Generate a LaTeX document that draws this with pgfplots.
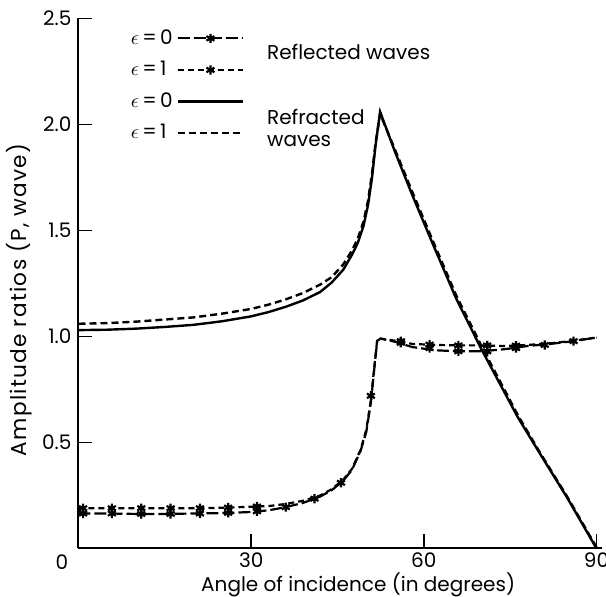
\documentclass[border=0pt]{standalone}
\usepackage{fontspec}
\setmainfont{Poppins}
\usepackage{pgfplots}
\pgfplotsset{compat=1.18}
\pgfplotsset{
 refl0/.style={black, line width=1.1pt, dash pattern=on 6pt off 2pt},
 refl1/.style={black, line width=1.1pt, dash pattern=on 3pt off 2pt},
 starm/.style={black, only marks, mark=asterisk, mark size=2.3pt, mark options={solid, line width=1.1pt}},
}
\begin{document}
\begin{tikzpicture}
\begin{axis}[
  at={(0,0)}, anchor=south west,
  scale only axis, width=261.9pt, height=265pt,
  xmin=0, xmax=91, ymin=0, ymax=2.5,
  clip=false,
  axis x line=bottom, axis y line=left,
  axis line style={-, line width=1pt},
  tick align=inside, major tick length=7pt,
  tick style={line width=0.9pt, black},
  xtick={30,60,90}, ytick={0.5,1,1.5,2,2.5},
  xticklabels={30,60,90},
  yticklabels={0.5,1.0,1.5,2.0,2.5},
  tick label style={font=\fontsize{10}{12}\selectfont},
  xticklabel style={yshift=1.2pt},
  legend style={at={(axis description cs:0.08,0.995)}, anchor=north west, draw=none, fill=none,
    font=\fontsize{10}{12}\selectfont, row sep=3pt},
  legend plot pos=right,
  legend cell align=left,
  legend image code/.code={\draw[mark repeat=2,mark phase=2,#1] plot coordinates {(0cm,0cm) (0.575cm,0cm) (1.15cm,0cm)};},
]
\addlegendimage{refl0, mark=asterisk, mark size=2.3pt, mark options={solid,line width=1.1pt}}
\addlegendentry{$\epsilon$\,=\,0}
\addlegendimage{refl1, mark=asterisk, mark size=2.3pt, mark options={solid,line width=1.1pt}}
\addlegendentry{$\epsilon$\,=\,1}
\addlegendimage{black, line width=1.1pt, no marks}
\addlegendentry{$\epsilon$\,=\,0}
\addlegendimage{black, line width=1.1pt, no marks, dash pattern=on 3.5pt off 2pt}
\addlegendentry{$\epsilon$\,=\,1}

% Refracted, epsilon = 0
\addplot[black, line width=1.2pt, no marks, forget plot] coordinates {
(0,1.03)(5,1.032)(10,1.037)(15,1.045)(20,1.055)(25,1.072)(30,1.095)(33,1.115)(36,1.14)
(39,1.17)(42,1.21)(44,1.255)(46,1.315)(47.5,1.385)(48.5,1.44)(49.5,1.52)(50.3,1.62)
(51,1.75)(51.6,1.9)(52.4,2.06)(55,1.87)(58.1,1.66)(61.5,1.44)(65.6,1.18)(70,0.94)
(76.3,0.62)(80,0.455)(85,0.235)(90,0.0)};
% Refracted, epsilon = 1
\addplot[black, line width=1.2pt, no marks, dash pattern=on 3.5pt off 2pt, forget plot] coordinates {
(0,1.06)(5,1.063)(10,1.07)(15,1.08)(20,1.09)(25,1.108)(30,1.13)(33,1.15)(36,1.175)
(39,1.205)(42,1.245)(44,1.28)(46,1.34)(47.5,1.405)(48.5,1.46)(49.5,1.54)(50.3,1.64)
(51,1.77)(51.6,1.91)(52.4,2.05)(55,1.88)(58.1,1.675)(61.5,1.455)(65.6,1.195)(70,0.955)
(76.3,0.63)(80,0.46)(85,0.24)(90,0.005)};
% Reflected, epsilon = 0
\addplot[refl0, no marks, forget plot] coordinates {
(0,0.165)(5,0.165)(10,0.163)(15,0.163)(20,0.165)(25,0.167)(30,0.172)(33,0.18)(36,0.195)
(39,0.215)(42,0.245)(44,0.275)(46,0.32)(47.5,0.37)(49,0.46)(50,0.55)(50.8,0.69)(51.4,0.85)
(51.9,0.98)(52.5,0.99)(55,0.975)(58,0.95)(62,0.935)(66,0.93)(70,0.93)(74,0.94)(78,0.955)
(82,0.965)(86,0.978)(90,0.995)};
% Reflected, epsilon = 1
\addplot[refl1, no marks, forget plot] coordinates {
(0,0.19)(5,0.19)(10,0.19)(15,0.19)(20,0.19)(25,0.192)(30,0.197)(33,0.2)(36,0.21)
(39,0.225)(42,0.25)(44,0.28)(46,0.325)(47.5,0.375)(49,0.465)(50,0.56)(50.8,0.7)(51.4,0.86)
(51.9,0.985)(52.5,0.99)(55,0.98)(58,0.965)(62,0.96)(66,0.958)(70,0.958)(74,0.955)(78,0.96)
(82,0.968)(86,0.98)(90,0.995)};
% stars
\addplot[starm, forget plot] coordinates {
(0.8,0.165)(5.8,0.165)(10.9,0.163)(16,0.163)(21.1,0.165)(26,0.168)(31,0.175)
(36,0.195)(41,0.235)(45.6,0.31)(50.8,0.72)(56,0.97)(61,0.945)(66,0.93)(71,0.93)(76,0.945)(81,0.96)(86,0.978)};
\addplot[starm, forget plot] coordinates {
(0.8,0.19)(5.8,0.19)(10.9,0.19)(16,0.19)(21.1,0.19)(26,0.193)(31,0.198)
(56,0.978)(61,0.962)(66,0.958)(71,0.958)(76,0.957)};

\node[anchor=west, font=\fontsize{10}{12}\selectfont, inner sep=0pt] at (axis cs:32.7,2.344) {Reflected waves};
\node[anchor=west, align=left, font=\fontsize{10}{11}\selectfont, inner sep=0pt] at (axis cs:32.7,1.985) {Refracted\\waves};
\node[anchor=center, font=\fontsize{10}{12}\selectfont, inner sep=0pt] at (axis description cs:-0.0315,-0.0255) {0};
\node[anchor=center, inner sep=0pt, font=\fontsize{10}{12}\selectfont] at (axis description cs:0.534,-0.0689) {Angle of incidence (in degrees)};
\node[anchor=center, inner sep=0pt, rotate=90, font=\fontsize{10.8}{12}\selectfont\addfontfeatures{LetterSpace=6}] at (axis description cs:-0.114,0.469) {Amplitude ratios (P, wave)};
\end{axis}
\pgfresetboundingbox
\path[use as bounding box] (-39.25pt,-24.25pt) rectangle (263.75pt,274.25pt);
\end{tikzpicture}
\end{document}
